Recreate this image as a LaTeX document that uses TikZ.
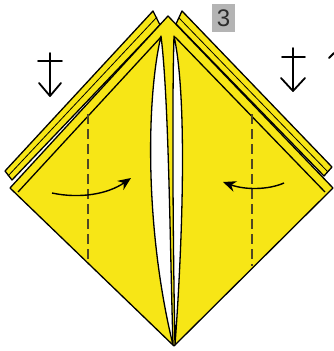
\documentclass[tikz,border=0pt]{standalone}
\usepackage{fontspec}
\setmainfont{Liberation Sans}
\usetikzlibrary{arrows.meta}
\definecolor{paper}{RGB}{247,230,22}
\definecolor{tagbg}{RGB}{180,180,180}
\definecolor{tagfg}{RGB}{45,45,45}
\definecolor{valley}{RGB}{80,72,35}
\begin{document}
\begin{tikzpicture}[x=1pt,y=-1pt,
  edge/.style={draw=black,line width=1.3pt,line join=round},
  crease/.style={draw=black,line width=0.8pt},
  slit/.style={draw=black,line width=1.3pt,fill=white,line join=round},
  valleyline/.style={draw=valley,line width=1.3pt,dash pattern=on 10pt off 5pt},
  flow/.style={draw=black,line width=1.4pt,-{Stealth[length=13pt,width=11pt]}},
  behind/.style={draw=black,line width=1.8pt,line cap=round,line join=round},
  tag/.style={fill=tagbg,text=tagfg,font=\fontsize{24}{24}\selectfont,inner sep=0pt,minimum width=23pt,minimum height=28pt}]
\useasboundingbox (0,0) rectangle (334,351);

% back layers peeking out along the upper edges
\filldraw[edge,fill=paper] (153,11) -- (5,171) -- (12,180) -- (160,25) -- cycle;
\draw[crease] (157,17) -- (8,176);
\filldraw[edge,fill=paper] (182,11) -- (332,167) -- (324,176) -- (176,24) -- cycle;
\draw[crease] (179,18) -- (328,172);

% front layer
\filldraw[edge,fill=paper] (168,16) -- (10,188) -- (174,346) -- (333,188) -- cycle;
\draw[edge] (161,37) -- (18,192);
\draw[edge] (175,37) -- (325,192);

% centre opening
\filldraw[slit] (161,36) .. controls (146,100) and (145,230) .. (173,345)
  .. controls (170,250) and (169,100) .. (161,36) -- cycle;
\filldraw[slit] (174,36) .. controls (172,100) and (173,250) .. (175,345)
  .. controls (182,250) and (188,100) .. (174,36) -- cycle;

% valley folds
\draw[valleyline] (88,114) -- (88,264);
\draw[valleyline] (252,114) -- (252,266);

% fold-in arrows
\coordinate (la) at (52,193);
\coordinate (lb) at (131,178);
\coordinate (ra) at (284,183);
\coordinate (rb) at (223,182);
\draw[flow] (la) .. controls (80,199) and (108,194) .. (lb);
\draw[flow] (ra) .. controls (268,190) and (245,190) .. (rb);

% fold-behind symbols
\draw[behind] (38,61) -- (62,61) (50,53) -- (50,96) (39,83) -- (50,96) -- (61,83);
\draw[behind] (282,57) -- (305,57) (293,48) -- (293,91) (281,78) -- (293,91) -- (305,78);
\draw[behind] (334,53) -- (329,58);

% step number
\node[tag] (step3) at (223.5,18) {3};
\end{tikzpicture}
\end{document}
